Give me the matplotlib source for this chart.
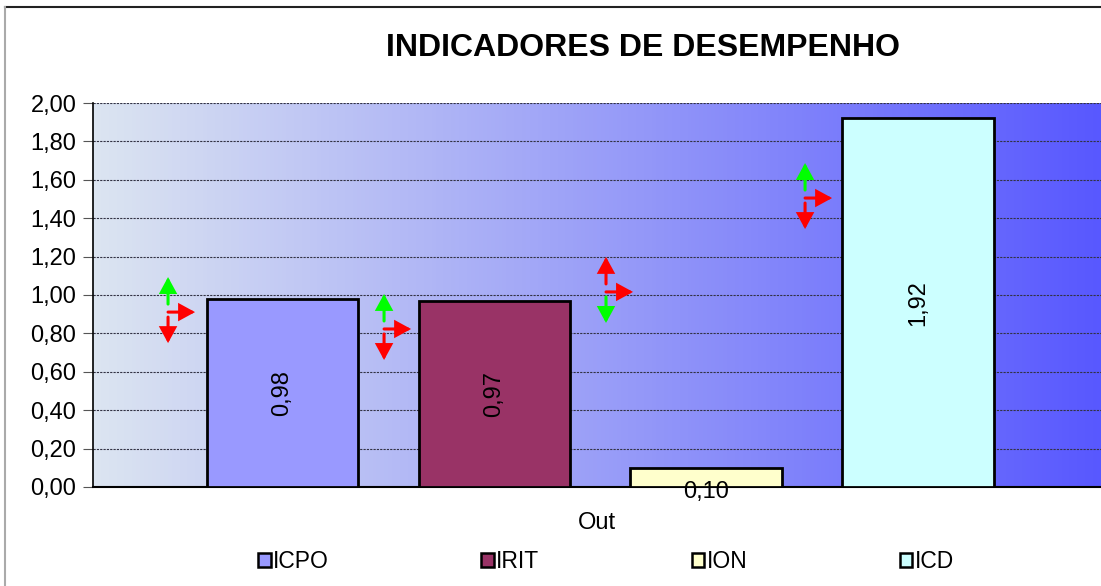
import numpy as np
import matplotlib
matplotlib.use("Agg")
import matplotlib.pyplot as plt
from matplotlib.patches import Patch
from matplotlib.ticker import FuncFormatter, MultipleLocator
from matplotlib.transforms import offset_copy
from matplotlib.lines import Line2D

# data
indicators = ["ICPO", "IRIT", "ION", "ICD"]
values = [0.98, 0.97, 0.10, 1.92]
bar_colors = ["#9999ff", "#993366", "#ffffcc", "#ccffff"]
category = "Out"

# arrow markers next to each bar (anchor in data units, up / down colours)
arrow_x = [-0.538, 0.481, 1.528, 2.467]
arrow_y = [0.911, 0.823, 1.016, 1.505]
arrow_up = ["#00ff00", "#00ff00", "#ff0000", "#00ff00"]
arrow_down = ["#ff0000", "#ff0000", "#00ff00", "#ff0000"]

plt.rcParams["font.family"] = ["Liberation Sans", "DejaVu Sans"]

fig = plt.figure(figsize=(11.01, 5.86), dpi=100)
ax = fig.add_axes([93 / 1101, 99 / 586, 1 - 93 / 1101, 384 / 586])

x = np.arange(len(values))
ax.set_xlim(-0.892, 3.863)
ax.set_ylim(0, 2.0)

# gradient background
left = np.array([220, 229, 241]) / 255
right = np.array([88, 88, 255]) / 255
t = np.linspace(0, 1, 256)[None, :, None]
grad = left + (right - left) * t
ax.imshow(grad, extent=[-0.892, 3.863, 0, 2.0], aspect="auto", zorder=0)

ax.yaxis.set_major_locator(MultipleLocator(0.2))
ax.yaxis.grid(True, linestyle=(0, (2, 1)), color="#333344", linewidth=0.8, zorder=1)
ax.yaxis.set_major_formatter(FuncFormatter(lambda v, p: f"{v:.2f}".replace(".", ",")))
ax.tick_params(axis="y", labelsize=17, length=7, width=0.8, color="#555555", pad=5)

ax.set_xticks([(ax.get_xlim()[0] + ax.get_xlim()[1]) / 2])
ax.set_xticklabels([category], fontsize=17)
ax.tick_params(axis="x", length=0, pad=18)

ax.spines["top"].set_visible(False)
ax.spines["right"].set_visible(False)
ax.spines["left"].set_linewidth(1.2)
ax.spines["bottom"].set_linewidth(1.5)

bars = ax.bar(x, values, width=0.713, color=bar_colors, edgecolor="black",
              linewidth=2, zorder=3)

for xi, v in zip(x, values):
    lbl = f"{v:.2f}".replace(".", ",")
    if v > 0.5:
        ax.text(xi, v / 2, lbl, rotation=90, ha="center", va="center",
                fontsize=17, zorder=4, clip_on=False)
    else:
        ax.text(xi, -0.028, lbl, ha="center", va="center", fontsize=17,
                zorder=4, clip_on=False)

# up / right / down arrows
style = "-|>,head_length=0.55,head_width=0.3"
for ax_x, ax_y, cu, cd in zip(arrow_x, arrow_y, arrow_up, arrow_down):
    segs = [((0, 8), (0, 35), cu), ((0, 0), (27, 0), "#ff0000"), ((0, -5), (0, -31), cd)]
    for (tx, ty), (hx, hy), c in segs:
        ax.annotate("", xy=(ax_x, ax_y), xycoords=offset_copy(ax.transData, fig=fig, x=hx, y=hy, units="dots"),
                    xytext=(ax_x, ax_y), textcoords=offset_copy(ax.transData, fig=fig, x=tx, y=ty, units="dots"),
                    arrowprops=dict(arrowstyle=style, color=c, lw=2.2, shrinkA=0, shrinkB=0,
                                    mutation_scale=16, joinstyle="miter"), zorder=5)

fig.text(643 / 1101, 1 - 48 / 586, "INDICADORES DE DESEMPENHO", ha="center", va="center",
         fontsize=23, fontweight="bold")

handles = [Patch(facecolor=c, edgecolor="black", linewidth=1.8) for c in bar_colors]
fig.legend(handles, indicators, loc="center", bbox_to_anchor=(606 / 1101, 1 - 562 / 586),
           ncol=4, frameon=False, fontsize=16.5, handlelength=0.55, handleheight=0.55,
           handletextpad=0.1, columnspacing=6.65)

# chart border
fig.add_artist(Line2D([5 / 1101, 1], [1 - 7 / 586, 1 - 7 / 586], color="#222222", lw=1.5))
fig.add_artist(Line2D([5 / 1101, 5 / 1101], [0, 1 - 7 / 586], color="#aaaaaa", lw=1.5))

fig.savefig("out.png", dpi=100)
